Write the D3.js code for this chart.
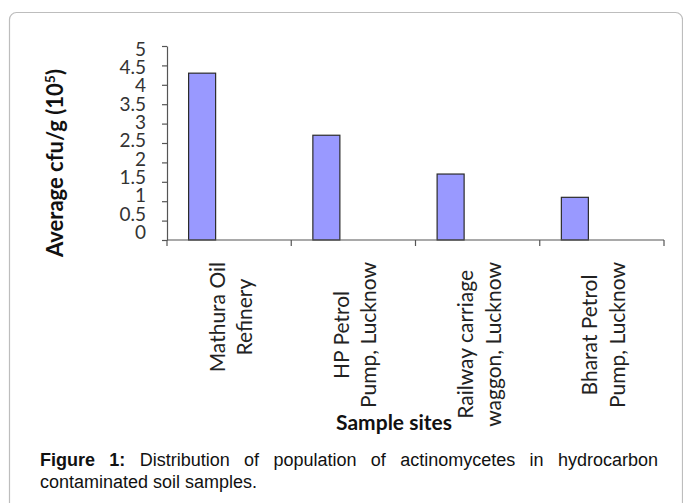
<!DOCTYPE html>
<html>
<head>
<meta charset="utf-8">
<script src="https://cdn.jsdelivr.net/npm/d3@7"></script>
<style>
  body { margin: 0; background: #fff; }
  #chart { position: relative; width: 683px; height: 503px; overflow: hidden; }
  #caption {
    position: absolute; left: 40px; top: 449px; width: 618px;
    font-family: "Liberation Sans", Arial, sans-serif; font-size: 18px;
    line-height: 22px; text-align: justify; color: #111;
  }
</style>
</head>
<body>
<div id="chart"></div>
<script>
// Chart data
const sites = ["Mathura Oil Refinery", "HP Petrol Pump, Lucknow", "Railway carriage waggon, Lucknow", "Bharat Petrol Pump, Lucknow"];
const siteLines = [["Mathura Oil", "Refinery"], ["HP Petrol", "Pump, Lucknow"], ["Railway carriage", "waggon, Lucknow"], ["Bharat Petrol", "Pump, Lucknow"]];
const values = [4.3, 2.7, 1.7, 1.1];
const yTicks = [0, 0.5, 1, 1.5, 2, 2.5, 3, 3.5, 4, 4.5, 5];
// excel cluster of three series, only the first one holds data
const series = ["s1", "s2", "s3"];

const W = 683, H = 503;
const plot = { left: 167, right: 664, top: 46, bottom: 240 };
const labelFont = "Lato, 'Open Sans', sans-serif";

const svg = d3.select("#chart").append("svg")
  .attr("width", W)
  .attr("height", H);

// Outer frame
svg.append("rect")
  .attr("x", 9.5).attr("y", 12.5)
  .attr("width", 673).attr("height", 520)
  .attr("rx", 7)
  .attr("fill", "none")
  .attr("stroke", "#bdbdbd")
  .attr("stroke-width", 1.2);

// Scales
const x = d3.scaleBand().domain(sites).range([plot.left, plot.right]).padding(0);
const xSeries = d3.scaleBand().domain(series).range([0, x.bandwidth()]).paddingInner(0).paddingOuter(0.8);
const y = d3.scaleLinear().domain([0, 5]).range([plot.bottom, plot.top]);
// the tick labels in the picture sit slightly tighter than the ticks
const yLabel = d3.scaleLinear().domain([0, 5]).range([232, 49]);

// Bars
svg.append("g")
  .selectAll("rect")
  .data(values)
  .join("rect")
  .attr("x", (d, i) => x(sites[i]) + xSeries("s1"))
  .attr("y", d => y(d))
  .attr("width", xSeries.bandwidth())
  .attr("height", d => y(0) - y(d))
  .attr("fill", "#9999ff")
  .attr("stroke", "#2b2b2b")
  .attr("stroke-width", 1.2);

// Y axis
const yAxis = svg.append("g")
  .attr("transform", `translate(${plot.left},0)`)
  .call(d3.axisLeft(y).tickValues(yTicks).tickSize(5).tickSizeOuter(0).tickFormat(""));
yAxis.selectAll("path, line").attr("stroke", "#555").attr("stroke-width", 1.2);

svg.append("g")
  .selectAll("text")
  .data(yTicks)
  .join("text")
  .attr("x", 146)
  .attr("y", d => yLabel(d))
  .attr("dy", "0.36em")
  .attr("text-anchor", "end")
  .attr("font-family", labelFont)
  .attr("font-size", 19)
  .attr("fill", "#333")
  .text(d => d);

// X axis with ticks on category boundaries
const xAxis = svg.append("g");
xAxis.append("line")
  .attr("x1", plot.left).attr("x2", plot.right)
  .attr("y1", y(0)).attr("y2", y(0))
  .attr("stroke", "#555").attr("stroke-width", 1.2);
const bounds = sites.map(s => x(s)).concat([x.range()[1]]);
xAxis.selectAll(".tick")
  .data(bounds)
  .join("line")
  .attr("x1", d => d).attr("x2", d => d)
  .attr("y1", y(0)).attr("y2", y(0) + 6)
  .attr("stroke", "#555").attr("stroke-width", 1.2);

// Category labels, rotated, block top at y=262
const lineH = 27.5;
const cat = svg.append("g")
  .selectAll("g")
  .data(siteLines)
  .join("g")
  .attr("font-family", labelFont)
  .attr("font-size", 21)
  .attr("fill", "#222");

cat.each(function (lines, i) {
  const g = d3.select(this);
  const t = g.selectAll("text")
    .data(lines)
    .join("text")
    .attr("text-anchor", "middle")
    .attr("y", (d, j) => (j - (lines.length - 1) / 2) * lineH)
    .attr("dy", "0.35em")
    .text(d => d);
  const maxLen = d3.max(t.nodes(), n => n.getComputedTextLength());
  const cx = x(sites[i]) + x.bandwidth() / 2 + 2;
  g.attr("transform", `translate(${cx},${262 + maxLen / 2}) rotate(-90)`);
});

// Axis titles
const yTitle = svg.append("text")
  .attr("transform", "translate(63,163) rotate(-90)")
  .attr("text-anchor", "middle")
  .attr("font-family", labelFont)
  .attr("font-weight", "bold")
  .attr("font-size", 22)
  .attr("fill", "#111");
yTitle.append("tspan").text("Average cfu/g (10");
yTitle.append("tspan").attr("font-size", 14).attr("dy", -8).text("5");
yTitle.append("tspan").attr("dy", 8).text(")");

svg.append("text")
  .attr("x", 394).attr("y", 430)
  .attr("text-anchor", "middle")
  .attr("font-family", labelFont)
  .attr("font-weight", "bold")
  .attr("font-size", 21)
  .attr("fill", "#111")
  .text("Sample sites");

// Figure caption
const cap = d3.select("#chart").append("div").attr("id", "caption");
cap.append("b").text("Figure 1:");
cap.append("span").text(" Distribution of population of actinomycetes in hydrocarbon contaminated soil samples.");
</script>
</body>
</html>
